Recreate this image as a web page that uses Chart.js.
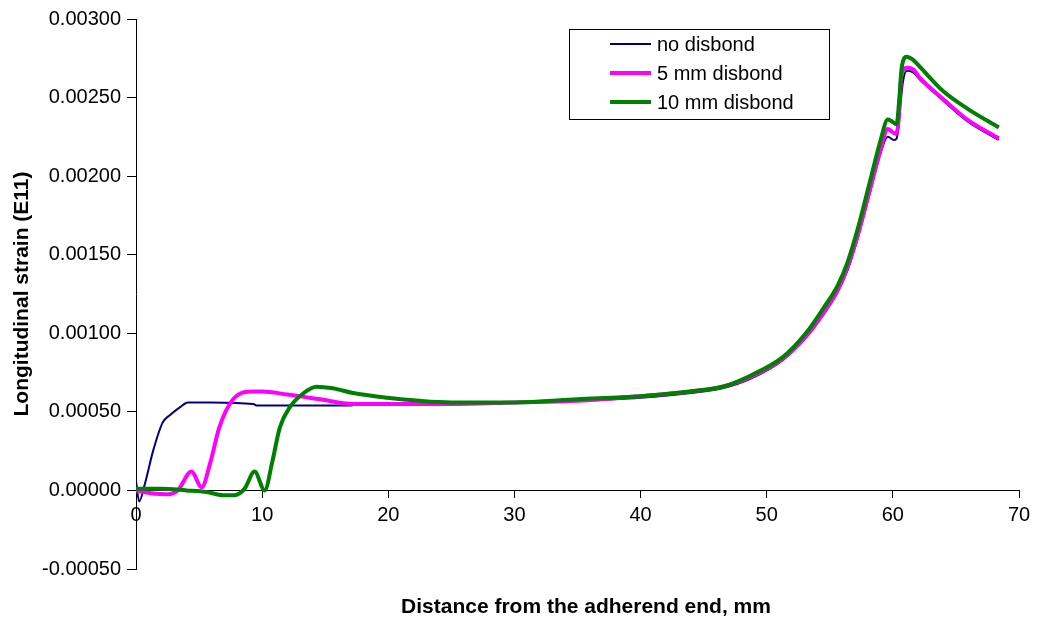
<!DOCTYPE html>
<html>
<head>
<meta charset="utf-8">
<script src="https://cdn.jsdelivr.net/npm/chart.js@4"></script>
<style>
    html, body { margin: 0; padding: 0; background: #fff; }
    #wrap { width: 1042px; height: 624px; }
</style>
</head>
<body>
<div id="wrap"><canvas id="chart" width="1042" height="624"></canvas></div>
<script>
// Данные (мм / деформация E11)
const seriesNames = ['no disbond', '5 mm disbond', '10 mm disbond'];

const xNoDisbond = [0, 0.25, 0.7, 1.35, 2.1, 2.7, 3.5, 4.1, 6, 9.3, 9.6, 12, 17, 17.5, 20, 25, 30, 35, 40, 44,
    46.5, 48.7, 51.3, 53.2, 54.5, 55.6, 56.4, 57.2, 58.2, 59.0, 59.6, 60.1, 60.3, 60.8, 61.1, 61.6, 62.2, 64.0, 65.9, 68.4];
const yNoDisbond = [0.00006, -0.00007, 0.00004, 0.00025, 0.00043, 0.00048, 0.00053, 0.00056, 0.00056, 0.00055, 0.00054,
    0.00054, 0.00054, 0.00055, 0.00055, 0.00055, 0.00056, 0.00057, 0.00059, 0.00062, 0.00065, 0.00071, 0.00083, 0.00098,
    0.00112, 0.00126, 0.00140, 0.00160, 0.00190, 0.00214, 0.00225, 0.00223, 0.00224, 0.00260, 0.00267, 0.00266, 0.00261,
    0.00248, 0.00235, 0.00223];

const x5mm = [0, 1.35, 2.4, 3.3, 4.4, 5.2, 5.9, 6.6, 7.7, 9.3, 10, 12, 14.6, 17.2, 21, 25, 30, 35, 40, 44, 46.5,
    48.7, 51.3, 53.2, 54.5, 55.6, 56.4, 57.2, 58.2, 59.0, 59.6, 60.2, 60.4, 60.7, 61.1, 61.6, 62.2, 64.0, 65.9, 68.4];
const y5mm = [0.0, -0.00002, -0.000025, 0.0, 0.00012, 0.00002, 0.00018, 0.0004, 0.00058, 0.00063, 0.00063, 0.00061,
    0.00058, 0.00055, 0.00055, 0.00055, 0.00056, 0.00057, 0.0006, 0.00063, 0.00066, 0.00072, 0.00084, 0.00099, 0.00113,
    0.00127, 0.00142, 0.00162, 0.00192, 0.00216, 0.00230, 0.00227, 0.00231, 0.00265, 0.00269, 0.00268, 0.00262, 0.00249,
    0.00236, 0.00224];

const x10mm = [0, 2, 4, 5.6, 6.9, 7.8, 8.6, 9.4, 10.2, 10.8, 11.4, 12.2, 13.3, 14.3, 15.6, 17.2, 19.9, 22.5, 25, 30, 35,
    40, 43.9, 46.5, 48.7, 51.3, 53.2, 54.5, 55.6, 56.4, 57.2, 58.2, 59.0, 59.6, 59.9, 60.3, 60.5, 60.7, 61.1, 61.6, 62.2,
    64.0, 65.9, 68.4];
const y10mm = [0.00001, 0.00001, 0.0, -0.00001, -0.00003, -0.00003, 0.00001, 0.00012, 0.0, 0.00018, 0.0004, 0.00053,
    0.00062, 0.00066, 0.00065, 0.00062, 0.00059, 0.00057, 0.00056, 0.00056, 0.00058, 0.0006, 0.00063, 0.00066, 0.00073,
    0.00085, 0.00101, 0.00116, 0.00130, 0.00145, 0.00166, 0.00197, 0.00222, 0.00236, 0.00235, 0.00233, 0.00248, 0.00269,
    0.00276, 0.00274, 0.00269, 0.00254, 0.00243, 0.00231];

const xTicks = [0, 10, 20, 30, 40, 50, 60, 70];
const yTicks = [-0.0005, 0, 0.0005, 0.001, 0.0015, 0.002, 0.0025, 0.003];
const xTitle = 'Distance from the adherend end, mm';

const FONT = "'Liberation Sans', Arial, sans-serif";

function toPoints(xs, ys) {
    return xs.map((x, i) => ({ x: x, y: ys[i] }));
}

// Легенда в рамке внутри области графика + подпись оси X
const boxLegend = {
    id: 'boxLegend',
    afterDraw(chart) {
        const ctx = chart.ctx;
        ctx.save();
        ctx.strokeStyle = '#000';
        ctx.lineWidth = 1;
        ctx.fillStyle = '#fff';
        ctx.fillRect(569.5, 29.5, 260, 90);
        ctx.strokeRect(569.5, 29.5, 260, 90);
        ctx.font = '20px ' + FONT;
        ctx.textBaseline = 'middle';
        ctx.textAlign = 'left';
        chart.data.datasets.forEach((ds, i) => {
            const y = 44 + i * 29;
            ctx.strokeStyle = ds.borderColor;
            ctx.lineWidth = ds.borderWidth;
            ctx.beginPath();
            ctx.moveTo(610, y);
            ctx.lineTo(651, y);
            ctx.stroke();
            ctx.fillStyle = '#000';
            ctx.fillText(ds.label, 657, y + 1);
        });

        ctx.font = 'bold 21px ' + FONT;
        ctx.textAlign = 'center';
        ctx.fillStyle = '#000';
        ctx.fillText(xTitle, 586, 607);
        ctx.restore();
    }
};

const ctx = document.getElementById('chart').getContext('2d');
new Chart(ctx, {
    type: 'line',
    data: {
        datasets: [{
            label: seriesNames[0],
            data: toPoints(xNoDisbond, yNoDisbond),
            borderColor: '#000080',
            borderWidth: 2,
            order: 3
        }, {
            label: seriesNames[1],
            data: toPoints(x5mm, y5mm),
            borderColor: '#ff00ff',
            borderWidth: 4,
            order: 2
        }, {
            label: seriesNames[2],
            data: toPoints(x10mm, y10mm),
            borderColor: '#008000',
            borderWidth: 4,
            order: 1
        }]
    },
    options: {
        responsive: false,
        animation: false,
        events: [],
        elements: {
            point: { radius: 0 },
            line: { cubicInterpolationMode: 'monotone', fill: false }
        },
        layout: {
            padding: { left: 0, right: 23, top: 19, bottom: 55 }
        },
        plugins: {
            legend: { display: false },
            tooltip: { enabled: false },
            title: { display: false }
        },
        scales: {
            x: {
                type: 'linear',
                position: { y: 0 },
                min: xTicks[0],
                max: xTicks[xTicks.length - 1],
                afterBuildTicks: s => { s.ticks = xTicks.map(v => ({ value: v })); },
                grid: { drawOnChartArea: false, drawTicks: true, tickLength: 7, color: '#000' },
                border: { display: true, color: '#000', width: 1 },
                ticks: {
                    color: '#000',
                    padding: 6,
                    maxRotation: 0,
                    font: { family: FONT, size: 20 }
                }
            },
            y: {
                type: 'linear',
                position: 'left',
                min: yTicks[0],
                max: yTicks[yTicks.length - 1],
                afterBuildTicks: s => { s.ticks = yTicks.map(v => ({ value: v })); },
                afterFit: s => { s.width = 136; },
                grid: { drawOnChartArea: false, drawTicks: true, tickLength: 9, color: '#000' },
                border: { display: true, color: '#000', width: 1 },
                ticks: {
                    color: '#000',
                    padding: 6,
                    font: { family: FONT, size: 20 },
                    callback: v => v.toFixed(5)
                },
                title: {
                    display: true,
                    text: 'Longitudinal strain (E11)',
                    color: '#000',
                    font: { family: FONT, size: 21, weight: 'bold' },
                    padding: { top: 10, bottom: 0 }
                }
            }
        }
    },
    plugins: [boxLegend]
});
</script>
</body>
</html>
